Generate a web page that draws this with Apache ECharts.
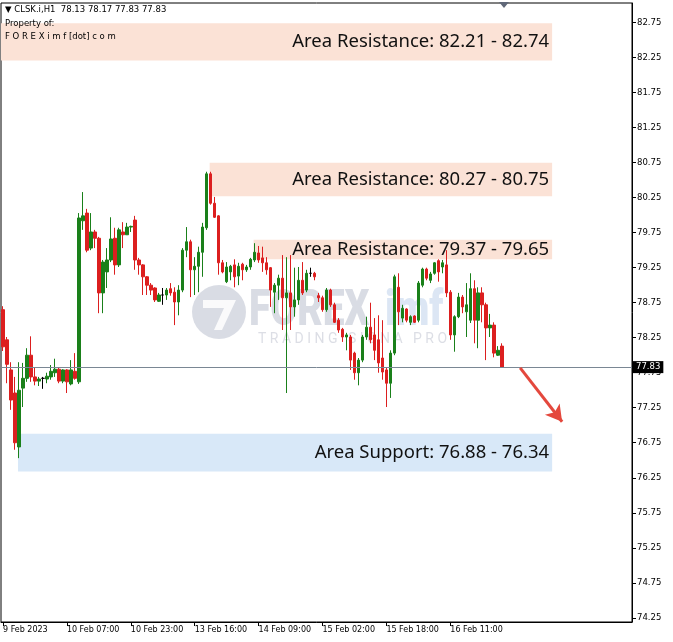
<!DOCTYPE html>
<html><head><meta charset="utf-8">
<script src="https://cdn.jsdelivr.net/npm/echarts@6/dist/echarts.min.js"></script>
<style>html,body{margin:0;padding:0;background:#fff}#c{width:673px;height:642px}</style>
</head><body><div id="c"></div><script>
// ---------- data ----------
const symbol = 'CLSK.i';
const timeframe = 'H1';
// [open, close, low, high] per hourly bar
const candles = [
[78.65,78.12,78.06,78.70],[78.22,77.87,77.60,78.26],[77.79,77.36,77.22,77.90],[77.46,76.75,76.65,77.69],
[76.69,77.50,76.53,77.90],[77.53,77.67,77.26,77.89],[77.67,78.00,77.62,78.10],[78.00,77.69,77.62,78.27],
[77.69,77.63,77.57,77.83],[77.63,77.66,77.56,77.69],[77.67,77.67,77.52,77.69],[77.66,77.70,77.60,77.75],
[77.69,77.77,77.65,77.86],[77.75,77.80,77.69,77.95],[77.80,77.63,77.60,77.82],[77.63,77.79,77.60,77.80],
[77.79,77.62,77.46,77.80],[77.59,77.79,77.57,77.93],[77.77,77.67,77.65,78.03],[77.62,79.96,77.59,80.03],
[79.92,79.99,79.79,80.33],[80.03,79.50,79.47,80.09],[79.53,79.76,79.50,80.03],[79.76,79.67,79.53,79.79],
[79.67,78.89,78.60,79.69],[78.89,79.33,78.60,79.36],[79.19,79.36,78.96,79.53],[79.36,79.66,79.33,79.97],
[79.67,79.29,79.15,79.82],[79.29,79.79,79.26,79.82],[79.76,79.72,79.53,79.90],[79.72,79.83,79.72,79.89],
[79.83,79.84,79.76,79.85],[79.93,79.36,79.22,79.99],[79.36,79.29,79.15,79.39],[79.29,79.12,78.86,79.30],
[79.12,79.00,78.86,79.13],[79.00,78.93,78.86,79.03],[78.96,78.79,78.76,78.97],[78.77,78.86,78.76,78.89],
[78.86,78.86,78.72,78.96],[78.86,78.93,78.79,78.96],[78.95,78.89,78.85,79.03],[78.90,78.76,78.43,78.97],
[78.76,78.93,78.57,79.00],[78.93,79.50,78.90,79.53],[79.50,79.62,79.40,79.83],[79.62,79.22,78.83,79.65],
[79.22,79.27,78.86,79.40],[79.27,79.47,78.90,79.55],[79.47,79.83,79.12,79.89],[79.82,80.59,79.79,80.62],
[80.59,80.17,80.15,80.62],[80.17,79.97,79.96,80.26],[79.99,79.32,79.15,80.00],[79.32,79.19,79.17,79.36],
[79.05,79.26,79.03,79.33],[79.19,79.27,79.07,79.29],[79.29,79.12,78.97,79.37],[79.13,79.27,79.00,79.32],
[79.30,79.22,79.07,79.32],[79.22,79.26,79.19,79.29],[79.26,79.37,79.22,79.39],[79.36,79.47,79.33,79.60],
[79.46,79.36,79.32,79.56],[79.39,79.32,79.19,79.55],[79.32,79.22,79.15,79.40],[79.25,78.93,78.69,79.26],
[78.90,79.00,78.60,79.03],[79.00,79.10,78.79,79.15],[79.10,78.82,78.36,79.43],[78.82,78.89,77.46,79.40],
[78.89,78.69,78.36,79.43],[78.69,78.79,78.55,79.25],[78.79,79.07,78.72,79.26],[79.07,78.89,78.86,79.33],
[78.93,79.17,78.90,79.22],[79.17,79.17,79.12,79.25],[79.17,79.12,79.07,79.19],[78.85,78.82,78.76,78.89],
[78.82,78.65,78.62,78.85],[78.65,78.93,78.62,78.96],[78.93,78.72,78.69,78.95],[78.72,78.47,78.46,78.75],
[78.50,78.36,78.32,78.53],[78.37,78.26,78.19,78.39],[78.26,78.29,78.07,78.32],[78.26,77.93,77.79,78.29],
[78.03,77.75,77.65,78.05],[77.75,77.93,77.57,77.96],[77.93,78.26,77.90,78.29],[78.26,78.40,78.22,78.55],
[78.40,78.22,78.17,78.75],[78.29,78.07,77.93,78.53],[78.22,77.89,77.75,78.57],[77.96,77.76,77.65,78.50],
[77.79,77.60,77.26,77.83],[77.60,78.03,77.39,78.07],[78.03,79.12,78.00,79.15],[78.97,78.62,78.43,79.17],
[78.53,78.67,78.47,78.72],[78.66,78.50,78.47,78.67],[78.47,78.55,78.43,78.57],[78.56,78.47,78.46,78.57],
[78.50,79.03,78.47,79.06],[79.00,79.23,78.97,79.25],[79.23,79.10,79.07,79.25],[79.07,79.16,79.03,79.19],
[79.17,79.32,79.15,79.33],[79.35,79.19,79.05,79.37],[79.26,79.32,79.17,79.36],[79.29,78.89,78.83,79.50],
[78.90,78.29,78.22,78.93],[78.29,78.55,78.05,78.57],[78.55,78.83,78.53,78.89],[78.83,78.69,78.60,78.86],
[78.62,78.72,78.26,79.03],[78.50,78.95,78.46,79.17],[78.95,78.50,78.17,79.07],[78.50,78.89,78.10,78.97],
[78.89,78.72,78.47,78.97],[78.72,78.39,77.93,78.75],[78.39,78.43,78.26,78.59],[78.43,78.03,77.97,78.47],
[78.00,78.07,77.99,78.13],[78.13,77.83,77.83,78.17]
];
const emptyBarsRight = 32;               // chart shift space after the last bar
const xTickIndex = [0,16,32,48,64,80,96,112];
const xTickText = ['9 Feb 2023','10 Feb 07:00','10 Feb 23:00','13 Feb 16:00','14 Feb 09:00','15 Feb 02:00','15 Feb 18:00','16 Feb 11:00'];
const yTickValues = [74.25,74.75,75.25,75.75,76.25,76.75,77.25,77.75,78.25,78.75,79.25,79.75,80.25,80.75,81.25,81.75,82.25,82.75];
const zoneNames  = ['Area Resistance','Area Resistance','Area Resistance','Area Support'];
const zoneLevels = [[82.21,82.74],[80.27,80.75],[79.37,79.65],[76.88,76.34]];
const zoneStartBar = [-0.5, 51.75, 62.75, 3.75];
const zoneEndBar = 137.5;
const zoneKinds = ['res','res','res','sup'];
const currentPrice = 77.83;
const arrowFrom = [129.5, 77.82];
const arrowTo = [140, 77.05];

// ---------- chart ----------
const nSlots = candles.length + emptyBarsRight;
const categories = Array.from({length: nSlots}, (_, i) => String(i));
const last = candles[candles.length - 1];
const header = '\u25BC ' + symbol + ',' + timeframe + '  ' +
  [last[0], last[3], last[2], last[1]].map(v => v.toFixed(2)).join(' ');

const GREEN = '#1a801a', RED = '#dc1f1f';
const zoneFill = {res: '#fbe2d6', sup: '#d8e8f8'};

const zoneData = zoneLevels.map((lv, i) => [
  { coord: [zoneStartBar[i], Math.max(lv[0], lv[1])],
    itemStyle: { color: zoneFill[zoneKinds[i]] },
    label: { formatter: zoneNames[i] + ': ' + lv[0].toFixed(2) + ' - ' + lv[1].toFixed(2) } },
  { coord: [zoneEndBar, Math.min(lv[0], lv[1])] }
]);

const chart = echarts.init(document.getElementById('c'), null, {renderer: 'canvas'});
chart.setOption({
  animation: false,
  backgroundColor: '#fff',
  grid: { left: 0, right: 41, top: 3, bottom: 20, show: true, borderColor: '#000', borderWidth: 1, backgroundColor: 'transparent' },
  xAxis: [{
    type: 'category', data: categories, boundaryGap: true,
    axisLine: { show: true, onZero: false, lineStyle: { color: '#000' } },
    axisTick: { show: true, alignWithLabel: true, length: 4, lineStyle: { color: '#000' },
      interval: (i) => xTickIndex.indexOf(i) >= 0 },
    axisLabel: { show: true, interval: (i) => xTickIndex.indexOf(i) >= 0,
      formatter: (v, i) => { const k = xTickIndex.indexOf(Number(v)); return k >= 0 ? xTickText[k] : ''; },
      align: 'left', margin: 4, fontSize: 8, fontFamily: 'DejaVu Sans', color: '#000' },
    splitLine: { show: false }
  }, {
    type: 'value', min: -0.5, max: nSlots - 0.5, show: false,
    axisLine: { onZero: false }, axisTick: { show: false }, axisLabel: { show: false }, splitLine: { show: false }
  }],
  yAxis: [{
    type: 'value', position: 'right', min: 74.19, max: 83.03, scale: true,
    axisLine: { show: true, onZero: false, lineStyle: { color: '#000' } },
    axisTick: { show: true, inside: false, length: 4, customValues: yTickValues, lineStyle: { color: '#000' } },
    axisLabel: { show: true, customValues: yTickValues, formatter: v => v.toFixed(2),
      margin: 5, fontSize: 8.5, fontFamily: 'DejaVu Sans', color: '#000' },
    splitLine: { show: false }
  }],
  graphic: [
    { type: 'group', z: 0, silent: true, children: [
      { type: 'circle', shape: { cx: 219, cy: 312, r: 27 }, style: { fill: 'rgba(186,191,206,0.55)' } },
      { type: 'polygon', shape: { points: [[203,300],[236,300],[222,330],[214,330],[224,308],[203,308]] }, style: { fill: 'rgba(255,255,255,0.85)' } },
      { type: 'text', x: 249, y: 287, style: { text: 'FOREX', font: '900 50px Roboto', fill: 'rgba(186,191,206,0.55)' }, scaleX: 0.78 },
      { type: 'text', x: 385, y: 287, style: { text: 'imf', font: '900 50px Roboto', fill: 'rgba(196,214,236,0.6)' }, scaleX: 0.78 },
      { type: 'text', x: 258, y: 332, style: { text: 'T R A D I N G   S I G N A   P R O', font: '14px Roboto', fill: 'rgba(196,200,212,0.6)' } }
    ]},
    { type: 'text', left: 5, top: 5, z: 10, style: { text: header, font: '8.5px DejaVu Sans', fill: '#000' } },
    { type: 'text', left: 5, top: 19, z: 10, style: { text: 'Property of:', font: '8.5px DejaVu Sans', fill: '#000' } },
    { type: 'text', left: 5, top: 32, z: 10, style: { text: 'F O R E X i m f [dot] c o m', font: '8.5px DejaVu Sans', fill: '#000' } },
    { type: 'polygon', z: 10, shape: { points: [[499,2],[509,2],[504,8]] }, style: { fill: '#606878' } }
  ],
  series: [
    { type: 'line', xAxisIndex: 1, data: [], z: 1, silent: true,
      markArea: { silent: true,
        label: { show: true, position: 'insideRight', distance: 3, fontSize: 18.5, fontFamily: 'Noto Sans', color: '#111' },
        data: zoneData } },
    { type: 'candlestick', xAxisIndex: 0, data: candles, z: 3, barWidth: 3,
      itemStyle: { color: GREEN, color0: RED, borderColor: GREEN, borderColor0: RED, borderColorDoji: '#000', borderWidth: 1 } },
    { type: 'line', xAxisIndex: 1, data: [], z: 4, silent: true,
      markLine: { silent: true, symbol: ['none','none'],
        lineStyle: { color: '#7a8794', width: 1, type: 'solid' },
        label: { show: true, position: 'end', distance: 1, formatter: currentPrice.toFixed(2),
          backgroundColor: '#000', color: '#fff', fontSize: 8.5, fontFamily: 'DejaVu Sans', padding: [2, 3, 1, 3] },
        data: [{ yAxis: currentPrice }] } },
    { type: 'line', xAxisIndex: 1, data: [], z: 5, silent: true,
      markLine: { silent: true, symbol: ['none','arrow'], symbolSize: [14, 16],
        lineStyle: { color: '#e4483d', width: 3, type: 'solid' },
        label: { show: false },
        data: [[{ coord: arrowFrom }, { coord: arrowTo }]] } }
  ]
});
</script></body></html>
